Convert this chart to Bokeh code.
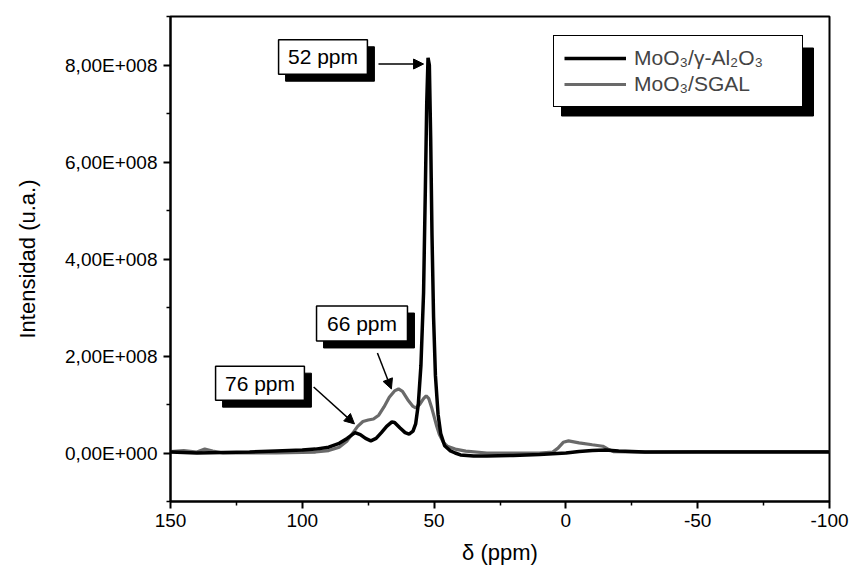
from bokeh.plotting import figure
from bokeh.models import (Range1d, FixedTicker, CustomJSTickFormatter, Legend, LegendItem,
                          BoxAnnotation, Label, Arrow, NormalHead, ColumnDataSource)
from bokeh.embed import file_html
from bokeh.resources import INLINE

# ---- data ----
# MoO3/gamma-Al2O3 : chemical shift (ppm) and intensity (x 1e8 a.u.)
al_ppm = [150, 140, 130, 120, 110, 100, 95, 90, 86, 83, 80, 78, 76, 74, 72, 70, 68, 66, 65,
          63, 61, 59.5, 58, 57, 56, 55, 54, 53.3, 52.8, 52.3, 51.8, 51.3, 50.8, 50.2, 49.5,
          48.5, 47.5, 46, 44, 42, 40, 35, 30, 20, 10, 0, -5, -10, -15, -20, -30, -50, -70, -100]
al_int = [0.02, 0.0, 0.01, 0.02, 0.04, 0.06, 0.08, 0.12, 0.2, 0.3, 0.42, 0.38, 0.3, 0.25, 0.3,
          0.42, 0.55, 0.64, 0.63, 0.52, 0.42, 0.39, 0.45, 0.6, 1.0, 1.8, 3.3, 5.5, 7.2, 8.15,
          8.0, 6.5, 4.5, 2.8, 1.6, 0.8, 0.4, 0.15, 0.05, 0.0, -0.04, -0.06, -0.06, -0.05,
          -0.03, 0.0, 0.03, 0.05, 0.06, 0.04, 0.02, 0.02, 0.02, 0.02]

# MoO3/SGAL
sg_ppm = [150, 145, 140, 137, 134, 130, 120, 110, 100, 95, 90, 86, 83, 81, 79, 77, 75, 73, 71,
          69, 67, 65, 63.5, 62, 60, 58, 57, 55.5, 54, 53, 52, 51, 50, 49, 48, 46.5, 45, 42,
          38, 30, 20, 10, 5, 3, 1, -1, -5, -10, -14, -16, -18, -30, -50, -70, -100]
sg_int = [0.03, 0.05, 0.02, 0.08, 0.04, 0.0, 0.0, 0.0, 0.01, 0.02, 0.05, 0.12, 0.25, 0.4,
          0.55, 0.65, 0.68, 0.7, 0.78, 0.95, 1.15, 1.28, 1.32, 1.27, 1.1, 0.96, 0.93, 1.0,
          1.12, 1.18, 1.12, 0.95, 0.75, 0.55, 0.38, 0.22, 0.14, 0.08, 0.04, 0.0, 0.0, 0.0,
          0.02, 0.1, 0.22, 0.25, 0.21, 0.17, 0.14, 0.08, 0.03, 0.02, 0.03, 0.03, 0.03]

series_labels = ["MoO\u2083/\u03b3-Al\u2082O\u2083", "MoO\u2083/SGAL"]
x_ticks = [150, 100, 50, 0, -50, -100]
x_minor = [125, 75, 25, -25, -75]
y_ticks = [0, 2e8, 4e8, 6e8, 8e8]
y_minor = [-1e8, 1e8, 3e8, 5e8, 7e8, 9e8]
peak_labels = ["52 ppm", "66 ppm", "76 ppm"]

SCALE = 1e8
FONT = "Liberation Sans"

p = figure(width=851, height=571, output_backend="svg", toolbar_location=None,
           x_range=Range1d(150, -100), y_range=Range1d(-1e8, 9e8),
           min_border_left=170, min_border_right=22, min_border_top=16, min_border_bottom=70)
p.background_fill_color = "white"
p.border_fill_color = "white"
p.grid.visible = False
p.outline_line_color = "black"
p.outline_line_width = 2
p.outline_line_alpha = 1

src_al = ColumnDataSource(dict(x=al_ppm, y=[v * SCALE for v in al_int]))
src_sg = ColumnDataSource(dict(x=sg_ppm, y=[v * SCALE for v in sg_int]))
r_sg = p.line("x", "y", source=src_sg, line_color="#6a6a6a", line_width=3.2)
r_al = p.line("x", "y", source=src_al, line_color="black", line_width=3.5)

# axes
for ax in (p.xaxis[0], p.yaxis[0]):
    ax.axis_line_width = 2
    ax.major_tick_line_width = 2
    ax.minor_tick_line_width = 1.5
    ax.major_tick_in = 0
    ax.major_tick_out = 7
    ax.minor_tick_in = 0
    ax.minor_tick_out = 4
    ax.major_label_text_font = FONT
    ax.major_label_text_font_size = "19px"
    ax.major_label_text_color = "black"
    ax.axis_label_text_font = FONT
    ax.axis_label_text_font_size = "22px"
    ax.axis_label_text_font_style = "normal"
    ax.axis_label_text_color = "black"

p.xaxis.ticker = FixedTicker(ticks=x_ticks, minor_ticks=x_minor)
p.yaxis.ticker = FixedTicker(ticks=y_ticks, minor_ticks=y_minor)
p.xaxis.formatter = CustomJSTickFormatter(code="return String(Math.round(tick));")
p.yaxis.formatter = CustomJSTickFormatter(code="""
if (tick == 0) { return "0,00E+000"; }
const e = Math.floor(Math.log10(Math.abs(tick)) + 1e-9);
const m = tick / Math.pow(10, e);
return m.toFixed(2).replace(".", ",") + "E+" + String(e).padStart(3, "0");
""")
p.xaxis.axis_label = "\u03b4 (ppm)"
p.yaxis.axis_label = "Intensidad (u.a.)"
p.xaxis.major_label_standoff = 5
p.xaxis.axis_label_standoff = 10
p.yaxis.major_label_standoff = 6
p.yaxis.axis_label_standoff = 22

# helpers to convert pixel offsets into data offsets for shadows
DX = 250.0 / 659.0   # ppm per pixel
DY = 1e9 / 485.0     # intensity per pixel
SH = 7

def boxed_label(text, x0, x1, y0, y1):
    # shadow
    p.add_layout(BoxAnnotation(left=x0 - SH * DX, right=x1 - SH * DX,
                               bottom=y0 - SH * DY, top=y1 - SH * DY,
                               fill_color="black", fill_alpha=1, line_color="black",
                               line_alpha=1))
    p.add_layout(BoxAnnotation(left=x0, right=x1, bottom=y0, top=y1,
                               fill_color="white", fill_alpha=1, line_color="black",
                               line_alpha=1, line_width=1.5))
    p.add_layout(Label(x=(x0 + x1) / 2, y=(y0 + y1) / 2, text=text, text_font=FONT,
                       text_font_size="21px", text_color="black", text_align="center",
                       text_baseline="middle"))

boxed_label(peak_labels[0], 109.0, 75.3, 7.81e8, 8.52e8)
boxed_label(peak_labels[1], 94.6, 60.1, 2.31e8, 3.03e8)
boxed_label(peak_labels[2], 132.9, 99.2, 1.09e8, 1.79e8)

def arrow(x0, y0, x1, y1):
    p.add_layout(Arrow(end=NormalHead(size=10, fill_color="black", line_color="black"),
                       x_start=x0, y_start=y0, x_end=x1, y_end=y1,
                       line_color="black", line_width=1.5))

arrow(71.1, 8.02e8, 54.0, 8.02e8)
arrow(71.5, 2.06e8, 66.2, 1.32e8)
arrow(95.7, 1.36e8, 80.2, 0.60e8)

# legend with shadow
lg_x0, lg_x1 = 150 - (553 - 170) * DX, 150 - (805 - 170) * DX
lg_y1, lg_y0 = (452 - 39) / 48.5 * 1e8, (452 - 107) / 48.5 * 1e8
p.add_layout(BoxAnnotation(left=lg_x0 - 8 * DX, right=lg_x1 - 8 * DX,
                           bottom=lg_y0 - 8 * DY, top=lg_y1 - 8 * DY,
                           fill_color="black", fill_alpha=1, line_color="black",
                           line_alpha=1))
legend = Legend(items=[LegendItem(label=series_labels[0], renderers=[r_al]),
                       LegendItem(label=series_labels[1], renderers=[r_sg])],
                location=(383, 394), padding=10, spacing=2, margin=0,
                glyph_width=62, label_height=22, label_width=158, label_standoff=8,
                label_text_font=FONT, label_text_font_size="21px",
                border_line_color="black", border_line_width=1.5, border_line_alpha=1,
                background_fill_color="white", background_fill_alpha=1)
p.add_layout(legend, "center")

open("out.html", "w").write(file_html(p, INLINE))
